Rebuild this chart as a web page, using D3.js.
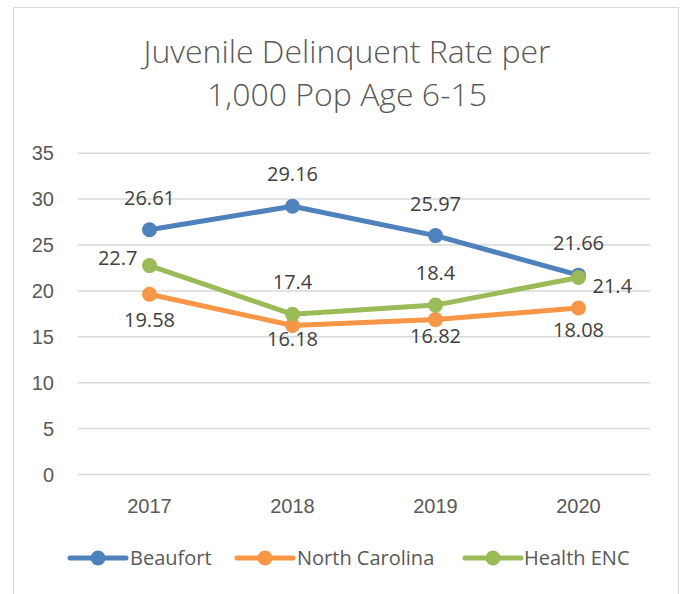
<!DOCTYPE html>
<html>
<head>
<meta charset="utf-8">
<script src="https://cdn.jsdelivr.net/npm/d3@7"></script>
<style>
  body { margin: 0; background: #fff; }
  svg { display: block; font-family: "Open Sans", Lato, sans-serif; }
</style>
</head>
<body>
<svg width="684" height="594"></svg>
<script>
// data
const years = ['2017', '2018', '2019', '2020'];
const seriesNames = ['Beaufort', 'North Carolina', 'Health ENC'];
const beaufort = [26.61, 29.16, 25.97, 21.66];
const northCarolina = [19.58, 16.18, 16.82, 18.08];
const healthENC = [22.7, 17.4, 18.4, 21.4];
const yTicks = [0, 5, 10, 15, 20, 25, 30, 35];

const colors = ['#4f81bd', '#f79646', '#9bbb59'];
const textColor = '#595959';

// where each data label sits relative to its point
const labelPlace = [
  ['above', 'above', 'above', 'above'],
  ['below', 'below', 'below', 'below'],
  ['left', 'above', 'above', 'right']
];
const belowDy = [33, 21, 23, 29];

const svg = d3.select('svg');

const series = [beaufort, northCarolina, healthENC].map((vals, i) => ({
  name: seriesNames[i],
  color: colors[i],
  values: vals
}));

// chart frame
svg.append('rect')
  .attr('x', 13.5).attr('y', 7.5)
  .attr('width', 665).attr('height', 600)
  .attr('fill', 'none')
  .attr('stroke', '#d9d9d9');

// title
const title = svg.append('text')
  .attr('text-anchor', 'middle')
  .attr('fill', textColor)
  .style('font-size', '32px')
  .style('font-weight', 300);
title.append('tspan').attr('x', 347).attr('y', 63).text('Juvenile Delinquent Rate per');
title.append('tspan').attr('x', 347).attr('y', 106).text('1,000 Pop Age 6-15');

const x = d3.scaleBand().domain(years).range([78, 650]);
const y = d3.scaleLinear().domain([0, 35]).range([474, 152.7]);
const cx = d => x(d) + x.bandwidth() / 2;

// gridlines + y labels
const yAxis = svg.append('g')
  .attr('transform', 'translate(78,0)')
  .call(d3.axisLeft(y).tickValues(yTicks).tickSize(-572).tickPadding(24));
yAxis.select('.domain').remove();
yAxis.selectAll('.tick line').attr('stroke', '#d9d9d9').attr('stroke-width', 1.5);
yAxis.selectAll('.tick text')
  .attr('fill', textColor)
  .style('font-size', '20px')
  .attr('dy', '0.35em');

// x labels
const xAxis = svg.append('g')
  .attr('transform', 'translate(0,474)')
  .call(d3.axisBottom(x).tickSize(0).tickPadding(25));
xAxis.select('.domain').remove();
xAxis.selectAll('.tick text')
  .attr('fill', textColor)
  .style('font-size', '20px');

// lines and markers
const line = d3.line()
  .x((d, i) => cx(years[i]))
  .y(d => y(d));

series.forEach(s => {
  const g = svg.append('g');
  g.append('path')
    .attr('d', line(s.values))
    .attr('fill', 'none')
    .attr('stroke', s.color)
    .attr('stroke-width', 5)
    .attr('stroke-linejoin', 'round')
    .attr('stroke-linecap', 'round');
  g.selectAll('circle')
    .data(s.values)
    .join('circle')
    .attr('cx', (d, i) => cx(years[i]))
    .attr('cy', d => y(d))
    .attr('r', 7.5)
    .attr('fill', s.color);
});

// data labels
series.forEach((s, si) => {
  svg.append('g').selectAll('text')
    .data(s.values)
    .join('text')
    .attr('fill', '#404040')
    .style('font-size', '20px')
    .each(function (d, i) {
      const place = labelPlace[si][i];
      const px = cx(years[i]);
      const py = y(d);
      const t = d3.select(this);
      if (place === 'above') {
        t.attr('x', px).attr('y', py - 25).attr('text-anchor', 'middle');
      } else if (place === 'below') {
        t.attr('x', px).attr('y', py + belowDy[i]).attr('text-anchor', 'middle');
      } else if (place === 'left') {
        t.attr('x', px - 12).attr('y', py - 1).attr('text-anchor', 'end');
      } else {
        t.attr('x', px + 14).attr('y', py + 15).attr('text-anchor', 'start');
      }
    })
    .text(d => d);
});

// legend
const legendItems = [
  { x: 70, textX: 130 },
  { x: 237, textX: 297 },
  { x: 465, textX: 524 }
];
const legend = svg.append('g').attr('transform', 'translate(0,558)');
series.forEach((s, i) => {
  const lx = legendItems[i].x;
  legend.append('line')
    .attr('x1', lx).attr('x2', lx + 56)
    .attr('stroke', s.color)
    .attr('stroke-width', 5)
    .attr('stroke-linecap', 'round');
  legend.append('circle')
    .attr('cx', lx + 28).attr('r', 7.5)
    .attr('fill', s.color);
  legend.append('text')
    .attr('x', legendItems[i].textX)
    .attr('dy', '0.35em')
    .attr('fill', textColor)
    .style('font-size', '20px')
    .text(s.name);
});
</script>
</body>
</html>
